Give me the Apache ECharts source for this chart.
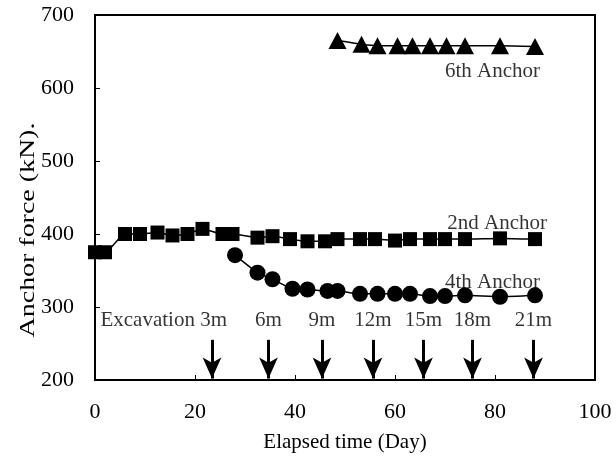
<!DOCTYPE html>
<html>
<head>
<meta charset="utf-8">
<script src="https://cdn.jsdelivr.net/npm/echarts@6/dist/echarts.min.js"></script>
<style>
  html, body { margin: 0; padding: 0; background: #fff; }
  #chart { width: 616px; height: 463px; }
</style>
</head>
<body>
<div id="chart"></div>
<script>
// Anchor force monitoring: elapsed days and measured force (kN)
const anchor2Days = [0, 2, 6, 9, 12.5, 15.5, 18.5, 21.5, 25.5, 27.5, 32.5, 35.5, 39, 42.5, 46, 48.5, 53, 56, 60, 63, 67, 70, 74, 81, 88];
const anchor2Force = [375, 375, 400, 400, 402, 398, 400, 407, 400, 400, 395, 397, 393, 390, 390, 393, 393, 393, 391, 393, 393, 393, 393, 394, 393];

const anchor4Days = [28, 32.5, 35.5, 39.5, 42.5, 46.5, 48.5, 53, 56.5, 60, 63, 67, 70, 74, 81, 88];
const anchor4Force = [371, 347, 338, 325, 324, 322, 322, 318, 318, 318, 318, 315, 315, 316, 314, 316];

const anchor6Days = [48.5, 53.3, 56.5, 60.5, 63.5, 67, 70.3, 74, 81, 88];
const anchor6Force = [665, 660, 658, 658, 658, 658, 658, 658, 658, 657];

// Excavation stages (day reached) and their depth labels
const excavationDays = [23.4, 34.7, 45.4, 55.6, 65.7, 75.5, 87.7];
const excavationLabels = ['Excavation 3m', '6m', '9m', '12m', '15m', '18m', '21m'];

const seriesLabels = ['2nd Anchor', '4th Anchor', '6th Anchor'];

const FONT = '"Liberation Serif", "Times New Roman", serif';

function zip(xs, ys) { return xs.map((x, i) => [x, ys[i]]); }

const chart = echarts.init(document.getElementById('chart'), null, { renderer: 'canvas' });

// vertical arrows pointing down onto the time axis at each excavation stage
const arrowLines = excavationDays.map(d => [
  { coord: [d, 255] },
  { coord: [d, 202] }
]);

const stageLabels = excavationDays.map((d, i) => {
  const item = { value: [d, 282] };
  if (i === 0) item.label = { align: 'right', offset: [15, 0] };
  return item;
});

const lineCommon = {
  type: 'line',
  color: '#000',
  lineStyle: { color: '#000', width: 1.5 },
  itemStyle: { color: '#000' },
  smooth: 0.2,
  animation: false,
  z: 3
};

chart.setOption({
  backgroundColor: '#fff',
  animation: false,
  textStyle: { fontFamily: FONT, color: '#000' },
  grid: { left: 95, top: 15, width: 500, height: 365, show: true, borderColor: '#000', borderWidth: 2 },
  xAxis: {
    type: 'value', min: 0, max: 100, interval: 20,
    name: 'Elapsed time (Day)', nameLocation: 'middle', nameGap: 52,
    nameTextStyle: { fontFamily: FONT, fontSize: 21, color: '#000' },
    axisLine: { show: true, lineStyle: { color: '#000', width: 2 } },
    axisTick: { show: true, inside: true, length: 5, lineStyle: { color: '#000' } },
    axisLabel: { fontFamily: FONT, fontSize: 22, color: '#000', margin: 21 },
    splitLine: { show: false }
  },
  yAxis: {
    type: 'value', min: 200, max: 700, interval: 100,
    axisLine: { show: true, lineStyle: { color: '#000', width: 2 } },
    axisTick: { show: true, inside: true, length: 5, lineStyle: { color: '#000' } },
    axisLabel: { fontFamily: FONT, fontSize: 22, color: '#000', margin: 21 },
    splitLine: { show: false }
  },
  graphic: [{
    type: 'text',
    x: 28, y: 230,
    rotation: Math.PI / 2,
    scaleX: 1.33,
    style: {
      text: 'Anchor force (kN).',
      font: '21px ' + FONT,
      fill: '#000',
      align: 'center',
      verticalAlign: 'middle'
    }
  }],
  series: [
    Object.assign({}, lineCommon, {
      name: seriesLabels[0],
      data: zip(anchor2Days, anchor2Force),
      symbol: 'rect', symbolSize: 14,
      markLine: {
        silent: true, animation: false,
        symbol: ['none', 'arrow'], symbolSize: [14, 21],
        lineStyle: { color: '#000', width: 3, type: 'solid' },
        label: { show: false },
        data: arrowLines
      }
    }),
    Object.assign({}, lineCommon, {
      name: seriesLabels[1],
      data: zip(anchor4Days, anchor4Force),
      symbol: 'circle', symbolSize: 16
    }),
    Object.assign({}, lineCommon, {
      name: seriesLabels[2],
      data: zip(anchor6Days, anchor6Force),
      symbol: 'triangle', symbolSize: [18, 17]
    }),
    {
      type: 'scatter',
      name: 'stages',
      symbolSize: 0,
      silent: true,
      data: stageLabels,
      label: {
        show: true, position: 'inside',
        fontFamily: FONT, fontSize: 21, color: '#000',
        formatter: p => excavationLabels[p.dataIndex]
      }
    },
    {
      type: 'scatter',
      name: 'series names',
      symbolSize: 0,
      silent: true,
      data: [
        { value: [90.4, 415] },
        { value: [89, 333] },
        { value: [89, 623] }
      ],
      label: {
        show: true, position: 'inside', align: 'right',
        fontFamily: FONT, fontSize: 21, color: '#000',
        formatter: p => seriesLabels[p.dataIndex]
      }
    }
  ]
});
</script>
</body>
</html>
